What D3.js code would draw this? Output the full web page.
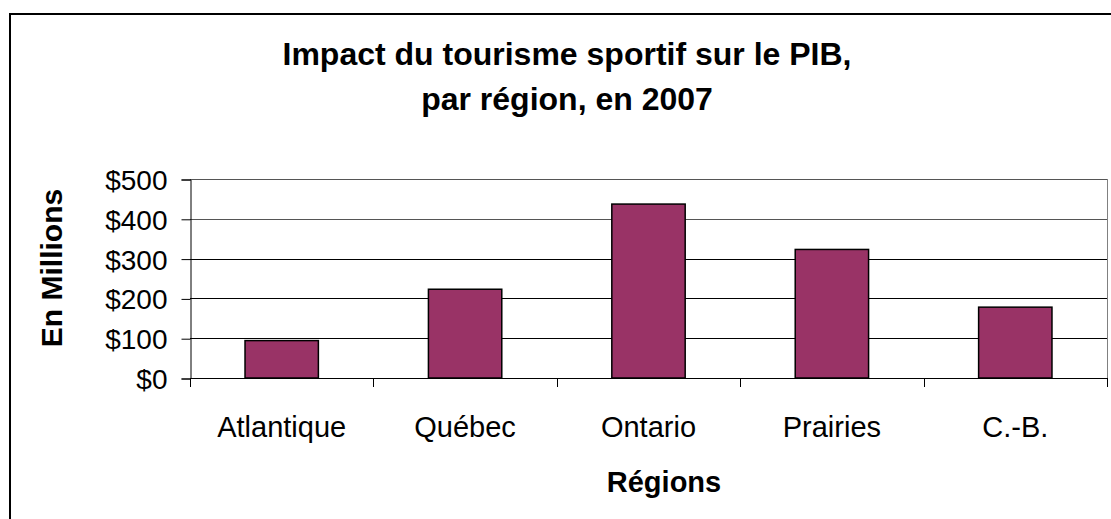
<!DOCTYPE html>
<html>
<head>
<meta charset="utf-8">
<script src="https://cdn.jsdelivr.net/npm/d3@7"></script>
<style>
  body { margin: 0; background: #fff; }
  text { font-family: "Liberation Sans", Arial, sans-serif; }
</style>
</head>
<body>
<div id="chart"></div>
<script>
// data
var regions = ["Atlantique", "Québec", "Ontario", "Prairies", "C.-B."];
var pibValues = [94, 223, 437, 323, 178];
var yTicks = [0, 100, 200, 300, 400, 500];
var titleLines = ["Impact du tourisme sportif sur le PIB,", "par région, en 2007"];

var width = 1111, height = 519;
var plot = {left: 190, right: 1107, top: 179, bottom: 378};

var svg = d3.select("#chart").append("svg")
	.attr("width", width)
	.attr("height", height);

// outer chart border (runs off the right and bottom edges)
svg.append("rect")
	.attr("x", 10).attr("y", 14)
	.attr("width", 1120).attr("height", 530)
	.attr("fill", "none")
	.attr("stroke", "#000")
	.attr("stroke-width", 2);

var x = d3.scaleBand()
	.domain(regions)
	.range([plot.left, plot.right])
	.paddingInner(0.6)
	.paddingOuter(0.3);

var xTicks = d3.scaleBand().domain(regions).range([plot.left, plot.right]);

var y = d3.scaleLinear()
	.domain([0, 500])
	.range([plot.bottom, plot.top]);

// gridlines
svg.append("g").selectAll("line").data(yTicks.slice(1)).enter()
	.append("line")
	.attr("x1", plot.left).attr("x2", plot.right)
	.attr("y1", function(d){ return Math.round(y(d)) + 0.5; })
	.attr("y2", function(d){ return Math.round(y(d)) + 0.5; })
	.attr("stroke", function(d){ return d >= 400 ? "#555" : "#000"; })
	.attr("stroke-width", 1);

// right border of plot area
svg.append("line")
	.attr("x1", plot.right + 0.5).attr("x2", plot.right + 0.5)
	.attr("y1", plot.top).attr("y2", plot.bottom)
	.attr("stroke", "#808080");

// bars
svg.append("g").selectAll("rect").data(pibValues).enter()
	.append("rect")
	.attr("x", function(d, i){ return x(regions[i]); })
	.attr("y", function(d){ return y(d); })
	.attr("width", x.bandwidth())
	.attr("height", function(d){ return y(0) - y(d); })
	.attr("fill", "#993366")
	.attr("stroke", "#000")
	.attr("stroke-width", 1.5);

// y axis
var yAxis = d3.axisLeft(y)
	.tickValues(yTicks)
	.tickFormat(function(d){ return "$" + d; })
	.tickSize(9)
	.tickPadding(14);
var gy = svg.append("g")
	.attr("transform", "translate(" + (plot.left + 0.5) + ",0.5)")
	.call(yAxis);
gy.select(".domain").attr("stroke", "#000");
gy.selectAll(".tick line").attr("stroke", "#000");
gy.selectAll("text")
	.attr("fill", "#000")
	.style("font-size", "28px")
	.attr("dy", "0.36em");

// x axis with ticks between categories
var tickPos = regions.map(function(r){ return xTicks(r); }).concat([plot.right]);
svg.append("line")
	.attr("x1", plot.left).attr("x2", plot.right + 1)
	.attr("y1", plot.bottom + 0.5).attr("y2", plot.bottom + 0.5)
	.attr("stroke", "#000");
svg.append("g").selectAll("line").data(tickPos).enter()
	.append("line")
	.attr("x1", function(d){ return Math.round(d) + 0.5; })
	.attr("x2", function(d){ return Math.round(d) + 0.5; })
	.attr("y1", plot.bottom).attr("y2", plot.bottom + 9)
	.attr("stroke", "#000");

svg.append("g").selectAll("text").data(regions).enter()
	.append("text")
	.attr("x", function(d){ return xTicks(d) + xTicks.bandwidth() / 2; })
	.attr("y", 437)
	.attr("text-anchor", "middle")
	.style("font-size", "29px")
	.text(function(d){ return d; });

// titles
svg.append("g").selectAll("text").data(titleLines).enter()
	.append("text")
	.attr("x", 567)
	.attr("y", function(d, i){ return 65 + i * 45; })
	.attr("text-anchor", "middle")
	.style("font-size", "32px")
	.style("font-weight", "bold")
	.text(function(d){ return d; });

svg.append("text")
	.attr("x", 664).attr("y", 492)
	.attr("text-anchor", "middle")
	.style("font-size", "29px")
	.style("font-weight", "bold")
	.text("Régions");

svg.append("text")
	.attr("transform", "translate(62,268) rotate(-90)")
	.attr("text-anchor", "middle")
	.style("font-size", "30px")
	.style("font-weight", "bold")
	.text("En Millions");
</script>
</body>
</html>
